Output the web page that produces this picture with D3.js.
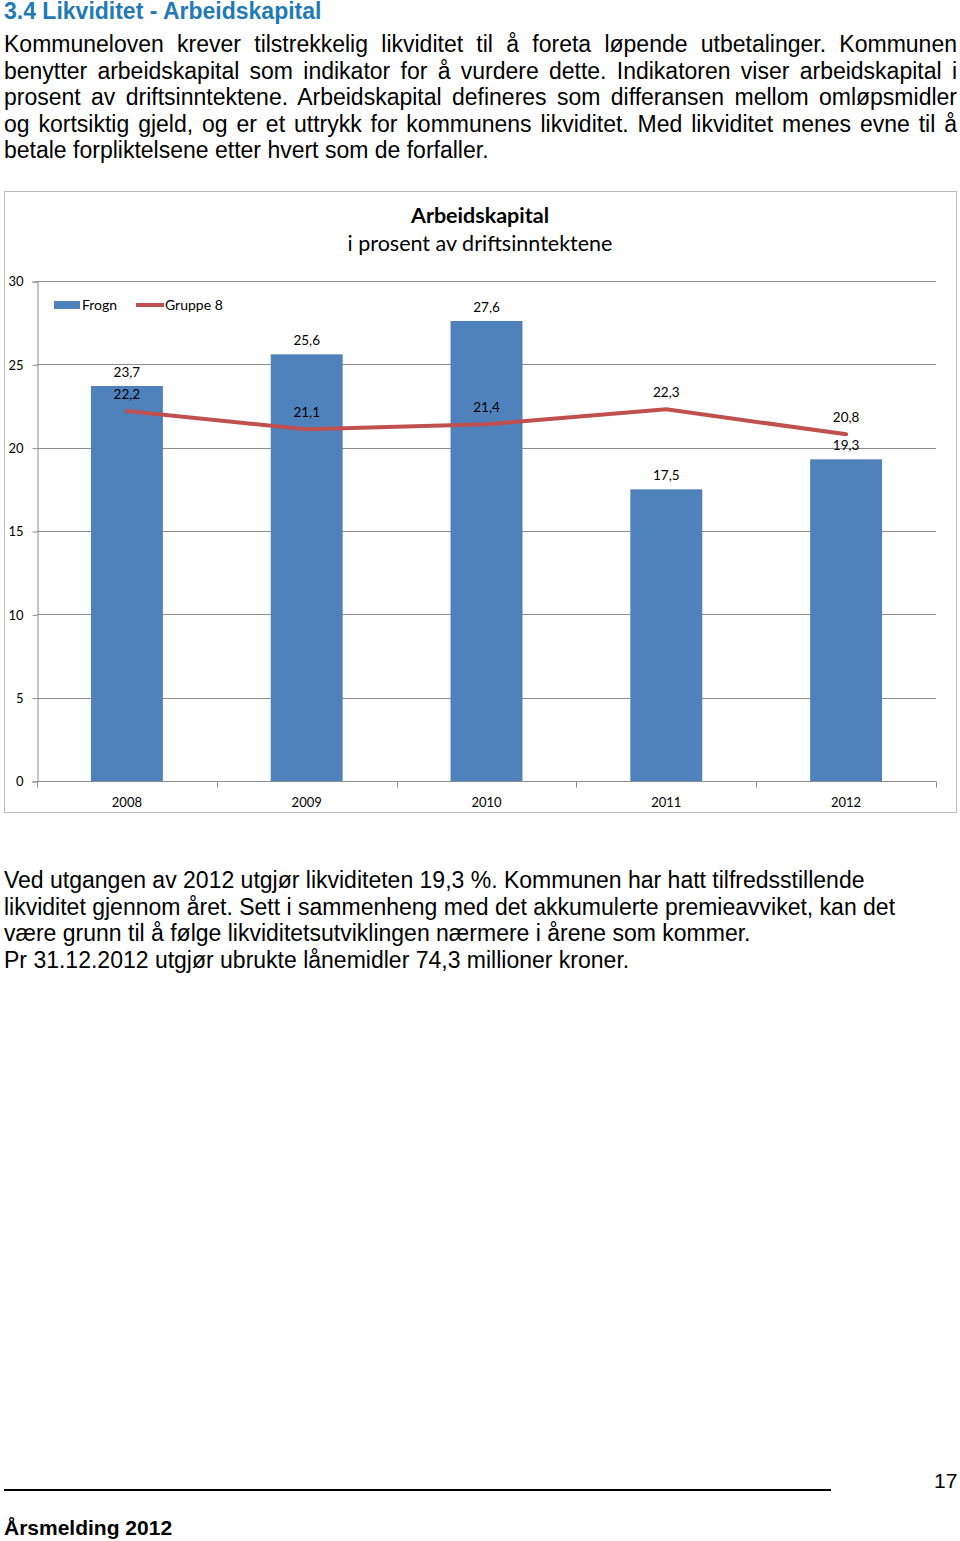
<!DOCTYPE html>
<html lang="no">
<head>
<meta charset="utf-8">
<title>Arbeidskapital</title>
<script src="https://cdn.jsdelivr.net/npm/d3@7"></script>
<style>
  body { margin: 0; background: #fff; width: 960px; height: 1541px; position: relative; overflow: hidden; }
  .h { position: absolute; left: 4px; top: -2px; font: bold 23px "Liberation Sans", Arial, sans-serif; color: #1f7ab8; }
  .p { position: absolute; left: 4px; width: 953px; font: 23px "Liberation Sans", Arial, sans-serif; color: #000; line-height: 26.6px; }
  .p div.j { text-align: justify; text-align-last: justify; }
  svg { position: absolute; left: 0; top: 0; }
  .foot { position: absolute; left: 4px; top: 1516px; font: bold 21px "Liberation Sans Narrow", "Liberation Sans", sans-serif; }
  .num { position: absolute; left: 934px; top: 1469px; font: 21px "Liberation Sans Narrow", "Liberation Sans", sans-serif; }
  .rule { position: absolute; left: 4px; top: 1489px; width: 827px; height: 2px; background: #000; }
</style>
</head>
<body>
<div class="h">3.4 Likviditet - Arbeidskapital</div>
<div class="p" style="top:31px">
  <div class="j">Kommuneloven krever tilstrekkelig likviditet til å foreta løpende utbetalinger. Kommunen</div>
  <div class="j">benytter arbeidskapital som indikator for å vurdere dette. Indikatoren viser arbeidskapital i</div>
  <div class="j">prosent av driftsinntektene. Arbeidskapital defineres som differansen mellom omløpsmidler</div>
  <div class="j">og kortsiktig gjeld, og er et uttrykk for kommunens likviditet. Med likviditet menes evne til å</div>
  <div>betale forpliktelsene etter hvert som de forfaller.</div>
</div>
<div class="p" style="top:867px">
  <div>Ved utgangen av 2012 utgjør likviditeten 19,3 %. Kommunen har hatt tilfredsstillende</div>
  <div>likviditet gjennom året. Sett i sammenheng med det akkumulerte premieavviket, kan det</div>
  <div>være grunn til å følge likviditetsutviklingen nærmere i årene som kommer.</div>
  <div>Pr 31.12.2012 utgjør ubrukte lånemidler 74,3 millioner kroner.</div>
</div>
<div class="rule"></div>
<div class="num">17</div>
<div class="foot">Årsmelding 2012</div>

<script>
// data
var years = ["2008", "2009", "2010", "2011", "2012"];
var frogn = [23.7, 25.6, 27.6, 17.5, 19.3];
var gruppe8 = [22.2, 21.1, 21.4, 22.3, 20.8];
var yTicks = [0, 5, 10, 15, 20, 25, 30];

var fmt = function(d) { return d3.format(".1f")(d).replace(".", ","); };
var chartFont = "Lato, 'Open Sans', sans-serif";

var svg = d3.select("body").append("svg")
  .attr("width", 960).attr("height", 1541);

// chart frame
svg.append("rect")
  .attr("x", 4.5).attr("y", 191.5)
  .attr("width", 952).attr("height", 621)
  .attr("fill", "#fff").attr("stroke", "#bdbdbd").attr("stroke-width", 1);

var pLeft = 37, pRight = 936, pTop = 281, pBottom = 781;

var x = d3.scaleBand().domain(years).range([pLeft, pRight]);
var y = d3.scaleLinear().domain([0, 30]).range([pBottom, pTop]);

// gridlines
svg.append("g").selectAll("line")
  .data(yTicks.slice(1))
  .enter().append("line")
  .attr("x1", pLeft).attr("x2", pRight)
  .attr("y1", function(d) { return Math.round(y(d)) + 0.5; })
  .attr("y2", function(d) { return Math.round(y(d)) + 0.5; })
  .attr("stroke", "#8c8c8c").attr("stroke-width", 1);

// y axis
var yAxis = svg.append("g")
  .attr("transform", "translate(" + (pLeft + 0.5) + ",0.5)")
  .call(d3.axisLeft(y).tickValues(yTicks).tickSize(5).tickPadding(9));
yAxis.select(".domain").attr("stroke", "#8c8c8c");
yAxis.selectAll(".tick line").attr("stroke", "#8c8c8c");
yAxis.selectAll("text").attr("font-family", chartFont).attr("font-size", 13).attr("fill", "#000");

// bars
var bw = x.bandwidth() * 0.4;
svg.append("g").selectAll("rect")
  .data(frogn)
  .enter().append("rect")
  .attr("x", function(d, i) { return x(years[i]) + (x.bandwidth() - bw) / 2; })
  .attr("y", function(d) { return y(d); })
  .attr("width", bw)
  .attr("height", function(d) { return pBottom - y(d); })
  .attr("fill", "#4f81bd");

// x axis
var xAxisG = svg.append("g").attr("transform", "translate(0," + (pBottom + 0.5) + ")");
xAxisG.append("line").attr("x1", pLeft).attr("x2", pRight).attr("stroke", "#8c8c8c");
xAxisG.selectAll("line.t")
  .data(d3.range(years.length + 1))
  .enter().append("line")
  .attr("class", "t")
  .attr("x1", function(i) { return Math.round(pLeft + i * x.step()) + 0.5; })
  .attr("x2", function(i) { return Math.round(pLeft + i * x.step()) + 0.5; })
  .attr("y1", 0).attr("y2", 6)
  .attr("stroke", "#8c8c8c");
xAxisG.selectAll("text")
  .data(years)
  .enter().append("text")
  .attr("x", function(d) { return x(d) + x.bandwidth() / 2; })
  .attr("y", 25)
  .attr("text-anchor", "middle")
  .attr("font-family", chartFont).attr("font-size", 13)
  .text(function(d) { return d; });

// line
var line = d3.line()
  .x(function(d, i) { return x(years[i]) + x.bandwidth() / 2; })
  .y(function(d) { return y(d); });
svg.append("path")
  .datum(gruppe8)
  .attr("d", line)
  .attr("fill", "none")
  .attr("stroke", "#c0504d")
  .attr("stroke-width", 4)
  .attr("stroke-linecap", "round");

// data labels
svg.append("g").selectAll("text")
  .data(frogn)
  .enter().append("text")
  .attr("x", function(d, i) { return x(years[i]) + x.bandwidth() / 2; })
  .attr("y", function(d) { return y(d) - 9; })
  .attr("text-anchor", "middle")
  .attr("font-family", chartFont).attr("font-size", 13.5)
  .text(fmt);

svg.append("g").selectAll("text")
  .data(gruppe8)
  .enter().append("text")
  .attr("x", function(d, i) { return x(years[i]) + x.bandwidth() / 2; })
  .attr("y", function(d) { return y(d) - 12; })
  .attr("text-anchor", "middle")
  .attr("font-family", chartFont).attr("font-size", 13.5)
  .text(fmt);

// title
svg.append("text")
  .attr("x", 480).attr("y", 223)
  .attr("text-anchor", "middle")
  .attr("font-family", chartFont).attr("font-size", 21.5).attr("font-weight", "bold")
  .text("Arbeidskapital");
svg.append("text")
  .attr("x", 480).attr("y", 251)
  .attr("text-anchor", "middle")
  .attr("font-family", chartFont).attr("font-size", 21.5)
  .text("i prosent av driftsinntektene");

// legend
var lg = svg.append("g").attr("transform", "translate(54,305)");
lg.append("rect").attr("x", 0).attr("y", -4).attr("width", 26).attr("height", 8).attr("fill", "#4f81bd");
lg.append("text").attr("x", 28).attr("y", 5)
  .attr("font-family", chartFont).attr("font-size", 14).text("Frogn");
lg.append("line").attr("x1", 82).attr("x2", 110).attr("y1", 0).attr("y2", 0)
  .attr("stroke", "#c0504d").attr("stroke-width", 4);
lg.append("text").attr("x", 111).attr("y", 5)
  .attr("font-family", chartFont).attr("font-size", 14).text("Gruppe 8");
</script>
</body>
</html>
